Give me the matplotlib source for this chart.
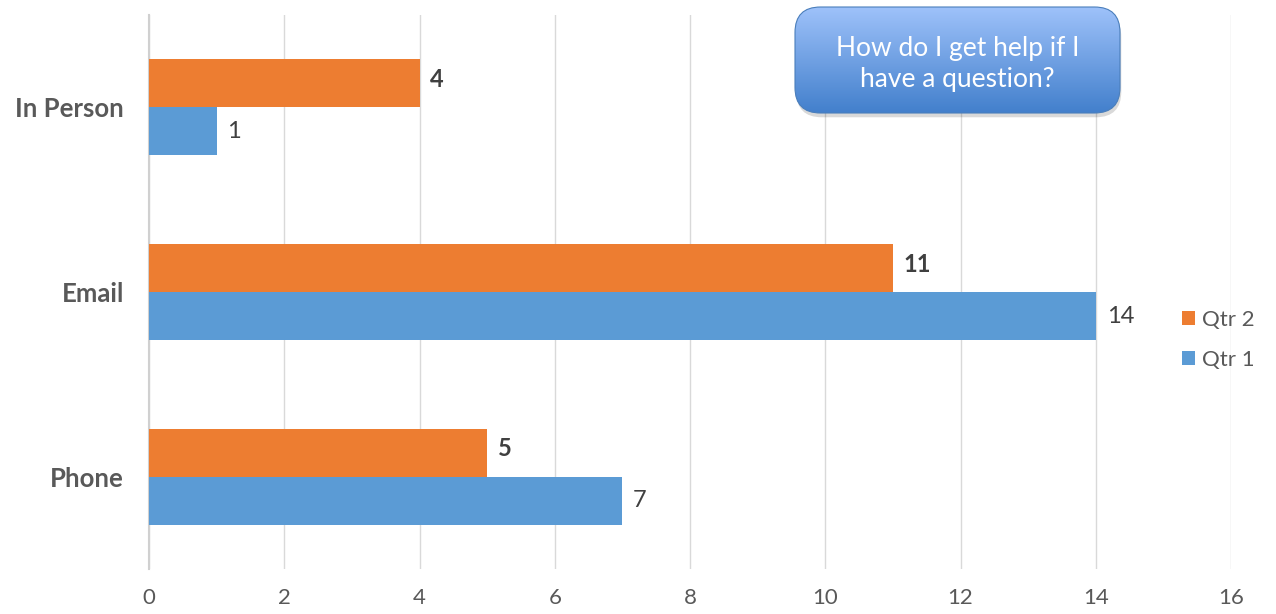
import matplotlib.pyplot as plt
import numpy as np
from matplotlib.patches import FancyBboxPatch

plt.rcParams['font.family'] = ['Lato', 'DejaVu Sans']

categories = ['Phone', 'Email', 'In Person']
qtr1 = [7, 14, 1]
qtr2 = [5, 11, 4]
series_names = ['Qtr 1', 'Qtr 2']
xticks = [0, 2, 4, 6, 8, 10, 12, 14, 16]
callout_text = 'How do I get help if I\nhave a question?'

blue = '#5B9BD5'
orange = '#ED7D31'
txt = '#595959'

fig = plt.figure(figsize=(12.76, 6.14), dpi=100)
ax = fig.add_axes([149 / 1276, 1 - 569 / 614, (1231 - 149) / 1276, (569 - 15) / 614])

y = np.arange(len(categories))
h = 0.26
b1 = ax.barh(y - h / 2, qtr1, height=h, color=blue, label=series_names[0], zorder=3)
b2 = ax.barh(y + h / 2, qtr2, height=h, color=orange, label=series_names[1], zorder=3)

for rect, v in zip(b1, qtr1):
    ax.text(v + 0.16, rect.get_y() + rect.get_height() / 2, str(v), va='center', ha='left',
            fontsize=17, color='#404040')
for rect, v in zip(b2, qtr2):
    ax.text(v + 0.16, rect.get_y() + rect.get_height() / 2 + 0.02, str(v), va='center', ha='left',
            fontsize=17, color='#404040', fontweight='bold')

ax.set_xlim(0, 16)
ax.set_ylim(-0.5, 2.5)
ax.set_xticks(xticks)
ax.set_yticks(y)
ax.set_yticklabels(categories, fontsize=18.5, fontweight='bold', color=txt)
ax.tick_params(axis='x', labelsize=16, colors=txt, length=0, pad=14)
ax.tick_params(axis='y', length=0, pad=18)
ax.grid(axis='x', color='#D9D9D9', linewidth=1, zorder=0)
for s in ['top', 'right', 'bottom']:
    ax.spines[s].set_visible(False)
ax.spines['left'].set_color('#D0D0D0')
ax.spines['left'].set_linewidth(1.5)

# legend
handles = [b2, b1]
leg = fig.legend(handles, [series_names[1], series_names[0]], loc='center left',
                 bbox_to_anchor=(1162 / 1276, 1 - 340 / 614), frameon=False,
                 fontsize=16, handlelength=0.6, handleheight=0.6, handletextpad=0.3,
                 labelspacing=0.9, labelcolor=txt)

# callout box with gradient
x0, y0, x1, y1 = 795 / 1276, 1 - 113 / 614, 1120 / 1276, 1 - 7 / 614
shadow = FancyBboxPatch((x0 + 0.001, y0 - 0.007), x1 - x0, y1 - y0,
                        boxstyle='round,pad=0,rounding_size=0.02', transform=fig.transFigure,
                        facecolor='#000000', alpha=0.15, edgecolor='none', zorder=4,
                        mutation_aspect=1276 / 614)
fig.patches.append(shadow)
box = FancyBboxPatch((x0, y0), x1 - x0, y1 - y0,
                     boxstyle='round,pad=0,rounding_size=0.02', transform=fig.transFigure,
                     facecolor='none', edgecolor='#4A7EBB', linewidth=0.8, zorder=6,
                     mutation_aspect=1276 / 614)
fig.patches.append(box)
grad = np.linspace(0, 1, 256).reshape(-1, 1)
top = np.array([0.62, 0.76, 0.98])
bot = np.array([0.26, 0.50, 0.80])
img = top + (bot - top) * grad[:, :, None]
gax = fig.add_axes([x0, y0, x1 - x0, y1 - y0], zorder=5)
gax.axis('off')
im = gax.imshow(img, aspect='auto', extent=[x0, x1, y0, y1],
                transform=fig.transFigure)
clip = FancyBboxPatch((x0, y0), x1 - x0, y1 - y0,
                      boxstyle='round,pad=0,rounding_size=0.02', transform=fig.transFigure,
                      facecolor='none', edgecolor='none', mutation_aspect=1276 / 614)
im.set_clip_path(clip)
fig.text((x0 + x1) / 2, 1 - 64 / 614, callout_text, ha='center', va='center',
         fontsize=19, color='white', zorder=10, linespacing=1.3)

fig.savefig('out.png', dpi=100)
